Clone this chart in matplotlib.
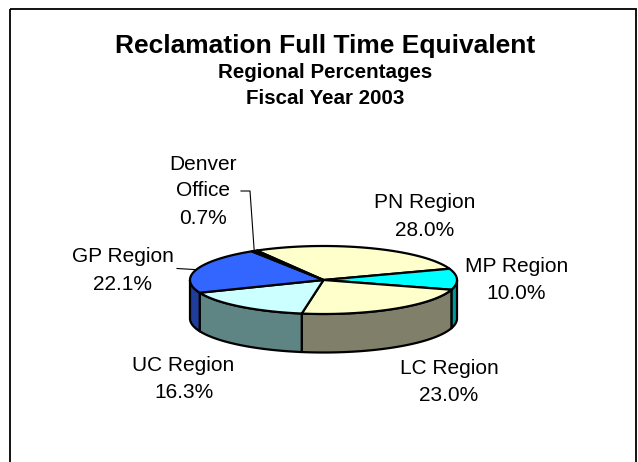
import numpy as np
import matplotlib.pyplot as plt
from matplotlib.patches import Polygon, Rectangle

plt.rcParams['font.family'] = ['Liberation Sans', 'DejaVu Sans']

# data, clockwise from the first slice
regions = ['PN Region', 'MP Region', 'LC Region', 'UC Region', 'GP Region', 'Denver\nOffice']
shares = [28.0, 10.0, 23.0, 16.3, 22.1, 0.7]

title = 'Reclamation Full Time Equivalent'
subtitles = ['Regional Percentages', 'Fiscal Year 2003']

# styles
top_colors = ['#FFFFCC', '#00FFFF', '#FFFFCC', '#CCFFFF', '#3366FF', '#000000']
side_colors = ['#80806A', '#009999', '#80806A', '#5F8484', '#1F3D99', '#000000']

# layout (pixels): pie ellipse, label baselines, leader line starts
cx, cy, rx, ry, depth = 323.5, 280.0, 133.5, 34.0, 38.5
start_angle = 120.0
label_pos = [(424.5, 208.5), (516.5, 272.0), (449.0, 374.0),
             (183.5, 371.0), (122.5, 262.5), (203.0, 169.5)]
line_step = 27.0
leaders = {4: [(177.0, 268.5)], 5: [(241.0, 191.0), (250.0, 191.0)]}


def rim(t_deg):
    t = np.radians(t_deg)
    return cx + rx * np.cos(t), cy - ry * np.sin(t)


def main():
    fig = plt.figure(figsize=(6.38, 4.62), dpi=100)
    ax = fig.add_axes([0, 0, 1, 1])
    ax.set_xlim(0, 638)
    ax.set_ylim(462, 0)
    ax.axis('off')

    # chart border (bottom runs off the picture)
    ax.add_patch(Rectangle((10, 9), 626, 480, fill=False, ec='black', lw=1.3, clip_on=False))

    total = sum(shares)
    bounds = start_angle - 360.0 * np.concatenate([[0], np.cumsum(shares)]) / total

    # side walls - only the front half is visible
    for i in range(len(shares)):
        t0, t1 = bounds[i], bounds[i + 1]
        for k in range(-2, 2):
            lo = max(t1, 360 * k - 180)
            hi = min(t0, 360 * k)
            if hi <= lo:
                continue
            ts = np.linspace(lo, hi, 80)
            x, y = rim(ts)
            pts = np.column_stack([np.r_[x, x[::-1]], np.r_[y, y[::-1] + depth]])
            ax.add_patch(Polygon(pts, closed=True, fc=side_colors[i], ec='black',
                                 lw=1.6, joinstyle='round', zorder=2))

    # top faces
    for i in range(len(shares)):
        ts = np.linspace(bounds[i], bounds[i + 1], 120)
        x, y = rim(ts)
        pts = np.column_stack([np.r_[cx, x], np.r_[cy, y]])
        ax.add_patch(Polygon(pts, closed=True, fc=top_colors[i], ec='black',
                             lw=1.6, joinstyle='round', zorder=3))

    # leader lines to slice mid points on the rim
    for i, starts in leaders.items():
        mid = (bounds[i] + bounds[i + 1]) / 2
        ex, ey = rim(mid)
        xs = [p[0] for p in starts] + [ex]
        ys = [p[1] for p in starts] + [ey]
        ax.plot(xs, ys, color='black', lw=0.8, zorder=4)

    # data labels
    for i, name in enumerate(regions):
        lines = name.split('\n') + [f'{shares[i]:.1f}%']
        lx, ly = label_pos[i]
        for j, s in enumerate(lines):
            ax.text(lx, ly + j * line_step, s, ha='center', va='baseline',
                    fontsize=15, color='black', zorder=5)

    # titles
    ax.text(325, 52.5, title, ha='center', va='baseline', fontsize=19, fontweight='bold')
    ax.text(325, 78.0, subtitles[0], ha='center', va='baseline', fontsize=14.8, fontweight='bold')
    ax.text(325, 104.5, subtitles[1], ha='center', va='baseline', fontsize=14.8, fontweight='bold')

    fig.savefig('out.png', dpi=100)


if __name__ == "__main__":
    main()
